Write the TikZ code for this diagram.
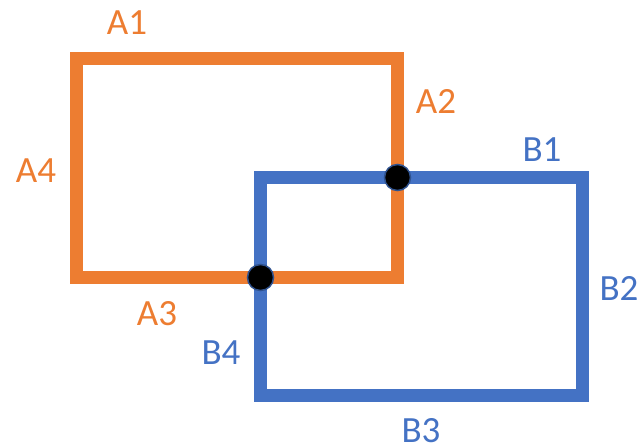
\documentclass[tikz,border=0pt]{standalone}
\usepackage{fontspec}
\setmainfont{Carlito}
\usepackage{tikz}
\usetikzlibrary{calc}
\definecolor{rectA}{HTML}{ED7D31}
\definecolor{rectB}{HTML}{4472C4}
\definecolor{dotline}{HTML}{2F528F}
\begin{document}
\begin{tikzpicture}[
x=1pt, y=-1pt,
frame/.style={line width=13pt, line join=miter},
lbl/.style={anchor=base, inner sep=0pt, font=\fontsize{37}{37}\selectfont},
meet/.style={circle, fill=black, draw=dotline, line width=1.5pt, minimum size=26pt, inner sep=0pt}
]
\useasboundingbox (0,0) rectangle (642,447);
% rectangle A
\coordinate (a1) at (76,58.5);
\coordinate (a2) at (397.5,277.5);
\draw[frame, rectA] (a1) rectangle (a2);
% rectangle B
\coordinate (b1) at (260.5,177.5);
\coordinate (b2) at (582.5,395.5);
\draw[frame, rectB] (b1) rectangle (b2);
% crossing points
\node[meet] (p) at (a2 |- b1) {};
\node[meet] (q) at (b1 |- a2) {};
% labels
\node[lbl, text=rectA] (A1) at (127,34) {A1};
\node[lbl, text=rectA] (A2) at (436,113) {A2};
\node[lbl, text=rectA] (A3) at (157,325) {A3};
\node[lbl, text=rectA] (A4) at (36,182) {A4};
\node[lbl, text=rectB] (B1) at (542,161) {B1};
\node[lbl, text=rectB] (B2) at (619,300) {B2};
\node[lbl, text=rectB] (B3) at (421,442) {B3};
\node[lbl, text=rectB] (B4) at (221,364) {B4};
\end{tikzpicture}
\end{document}
